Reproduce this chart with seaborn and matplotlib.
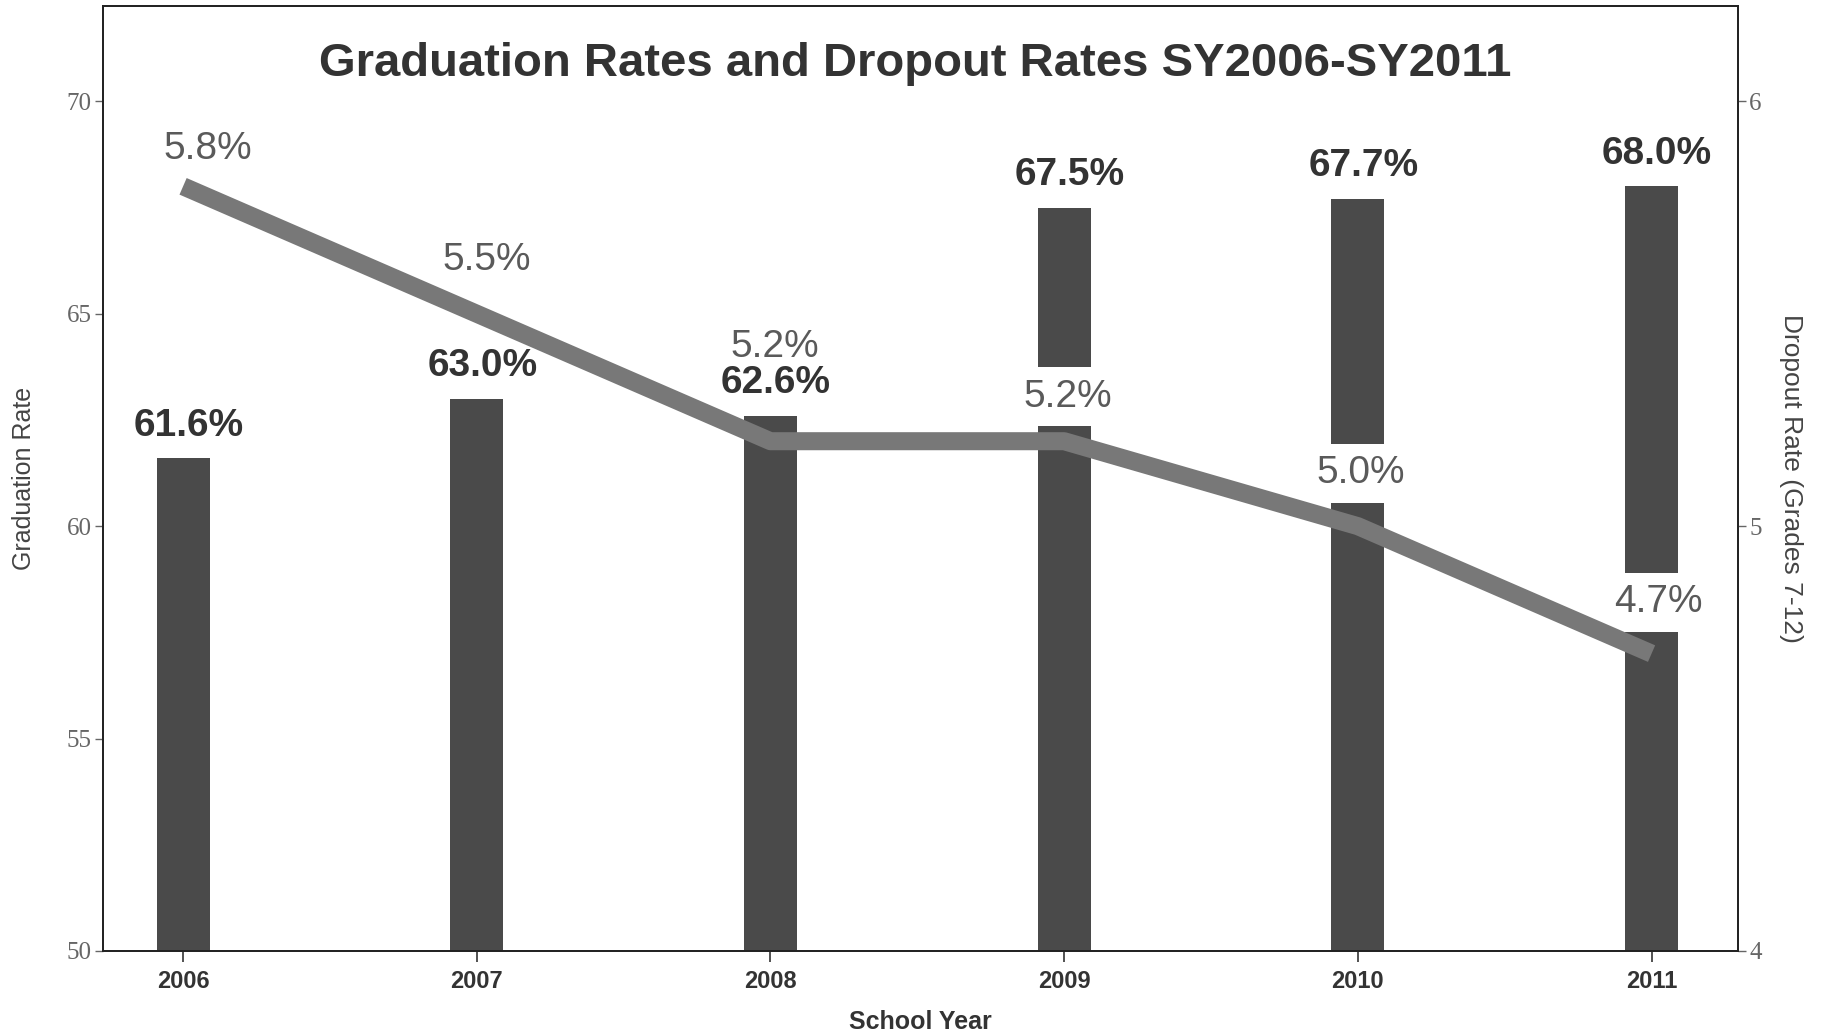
import matplotlib
matplotlib.use("Agg")
import matplotlib.pyplot as plt
import pandas as pd
import seaborn as sns


SCHOOL_YEARS = ["2006", "2007", "2008", "2009", "2010", "2011"]
GRADUATION_RATE = [61.6, 63.0, 62.6, 67.5, 67.7, 68.0]
DROPOUT_RATE = [5.8, 5.5, 5.2, 5.2, 5.0, 4.7]

GRAD_TICKS = [50, 55, 60, 65, 70]
DROPOUT_TICKS = [4, 5, 6]

# label nudges (points) for the dropout labels, as placed in the original
DROPOUT_LABEL_OFFSETS = [(18, 27), (7, 39), (3, 68), (2.5, 32), (2, 38), (5, 37)]

BAR_COLOR = "#4a4a4a"
LINE_COLOR = "#787878"
SANS = ["Liberation Sans", "DejaVu Sans"]
NARROW = ["Liberation Sans Narrow", "Liberation Sans", "DejaVu Sans"]
SERIF = ["Liberation Serif", "DejaVu Serif"]


def build_frame() -> pd.DataFrame:
    return pd.DataFrame(
        {"year": SCHOOL_YEARS, "graduation": GRADUATION_RATE, "dropout": DROPOUT_RATE}
    )


def main() -> None:
    df = build_frame()
    sns.set_style("white")
    plt.rcParams["font.family"] = SANS

    fig = plt.figure(figsize=(18.29, 10.35), dpi=100)
    ax = fig.add_axes([0.0561, 0.0812, 0.8941, 0.9132])

    sns.barplot(data=df, x="year", y="graduation", color=BAR_COLOR, width=0.18,
                saturation=1, edgecolor="none", ax=ax, zorder=1)
    ax.set_ylim(50, 72.25)
    ax.set_yticks(GRAD_TICKS)
    ax.set_xlim(-0.274, 5.294)

    ax2 = ax.twinx()
    sns.pointplot(data=df, x="year", y="dropout", color=LINE_COLOR, markers="",
                  linewidth=13, ax=ax2)
    for line in ax2.lines:
        line.set_solid_capstyle("butt")
        line.set_solid_joinstyle("round")
        line.set_zorder(5)
    ax2.set_ylim(4, 6.225)
    ax2.set_yticks(DROPOUT_TICKS)
    ax2.set_xlim(-0.274, 5.294)
    ax2.patch.set_visible(False)

    # dropout labels with white boxes that cut through the bars
    for i, (val, (dx, dy)) in enumerate(zip(DROPOUT_RATE, DROPOUT_LABEL_OFFSETS)):
        ax2.annotate(f"{val:.1f}%", (i, val), xytext=(dx, dy), textcoords="offset points",
                     ha="center", va="center", fontsize=28, color="#5a5a5a", zorder=4,
                     bbox=dict(boxstyle="square,pad=0.3", facecolor="white", edgecolor="none"))

    # graduation labels above the bars (drawn on top so the 2008 pair stays readable)
    for i, val in enumerate(GRADUATION_RATE):
        ax2.annotate(f"{val:.1f}%", (i, val), xycoords=ax.transData, xytext=(4, 23.5),
                     textcoords="offset points", ha="center", va="center", fontsize=28,
                     fontweight="bold", color="#333333", zorder=6)

    ax.text(0.497, 0.938, "Graduation Rates and Dropout Rates SY2006-SY2011",
            transform=ax.transAxes, ha="center", va="center", fontsize=34,
            fontweight="bold", color="#333333")
    ax.set_xlabel("School Year", fontsize=18, fontweight="bold", color="#333333", labelpad=12)
    ax.set_ylabel("Graduation Rate", fontsize=18, color="#444444", labelpad=22)
    ax2.set_xlabel("")
    ax2.set_ylabel("Dropout Rate (Grades 7-12)", fontsize=19, color="#444444",
                   rotation=270, labelpad=30)

    for label in ax.get_xticklabels():
        label.set_fontfamily(NARROW)
        label.set_fontweight("bold")
        label.set_fontsize(17)
        label.set_color("#333333")
    for axis_obj in (ax, ax2):
        for label in axis_obj.get_yticklabels():
            label.set_fontfamily(SERIF)
            label.set_fontsize(18)
            label.set_color("#555555")

    ax.tick_params(axis="x", direction="out", length=8, width=1.2, colors="#333333",
                   bottom=True, pad=6)
    ax.tick_params(axis="y", direction="out", length=6, width=1, colors="#666666",
                   left=True, pad=2)
    ax2.tick_params(axis="y", direction="out", length=6, width=1, colors="#666666",
                    right=True, pad=2)
    for axis_obj in (ax, ax2):
        for spine in axis_obj.spines.values():
            spine.set_visible(True)
            spine.set_color("#222222")
            spine.set_linewidth(1.3)

    fig.savefig("out.png", dpi=100, facecolor="white")
    plt.close(fig)


if __name__ == "__main__":
    main()
